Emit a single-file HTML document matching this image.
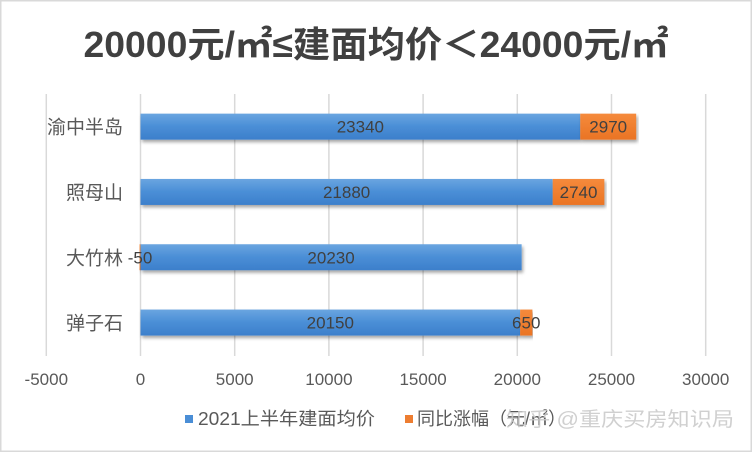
<!DOCTYPE html>
<html><head><meta charset="utf-8"><style>
html,body{margin:0;padding:0;background:#fff}
svg{display:block}
text{font-family:"Liberation Sans","Noto Sans CJK SC",sans-serif}
</style></head><body>
<svg id="chart" width="752" height="452" viewBox="0 0 752 452">
<defs>
<linearGradient id="gb" x1="0" y1="0" x2="0" y2="1"><stop offset="0" stop-color="#6aa5e0"/><stop offset="0.5" stop-color="#4a8ed6"/><stop offset="1" stop-color="#3c7fcb"/></linearGradient>
<linearGradient id="go" x1="0" y1="0" x2="0" y2="1"><stop offset="0" stop-color="#f58a3c"/><stop offset="1" stop-color="#ea7424"/></linearGradient>
<filter id="sh" x="-5%" y="-20%" width="110%" height="160%"><feDropShadow dx="1.5" dy="2.5" stdDeviation="1.5" flood-color="#000" flood-opacity="0.35"/></filter>
</defs>
<rect x="0.5" y="0.5" width="751" height="451" fill="#fff" stroke="#d9d9d9" stroke-width="2"/>
<text x="376" y="57" text-anchor="middle" font-size="36" font-weight="bold" fill="#404040" textLength="585" lengthAdjust="spacingAndGlyphs">20000元/㎡≤建面均价＜24000元/㎡</text>
<g id="grid"></g>
<g id="bars"></g>
<g id="labels"></g>
<g>
<rect x="185" y="415" width="8" height="8" fill="#4a8ed6"/>
<text x="198" y="425" font-size="18" fill="#595959" textLength="177" lengthAdjust="spacingAndGlyphs">2021上半年建面均价</text>
<rect x="405" y="415" width="8" height="8" fill="#ed7d31"/>
<text x="417" y="425" font-size="18" fill="#595959">同比涨幅（元/㎡）</text>
<text x="506" y="426" font-size="20" fill="#c8c8c8" fill-opacity="0.85" textLength="228" lengthAdjust="spacingAndGlyphs">知乎 @重庆买房知识局</text>
</g>
</svg>
<script>
const categories = ["渝中半岛","照母山","大竹林","弹子石"];
const prices = [23340, 21880, 20230, 20150];
const changes = [2970, 2740, -50, 650];
const ticks = [-5000,0,5000,10000,15000,20000,25000,30000];

const NS="http://www.w3.org/2000/svg";
const x0=140.5, k=94.2/5000;
const X=v=>x0+v*k;
const rowTop=94, rowH=65.3;
const Yc=i=>rowTop+rowH*(i+0.5);
const barH=26;
function mk(tag,attrs,parent){const e=document.createElementNS(NS,tag);for(const a in attrs)e.setAttribute(a,attrs[a]);parent.appendChild(e);return e;}
const grid=document.getElementById('grid'),bars=document.getElementById('bars'),labels=document.getElementById('labels');
ticks.forEach(t=>{
  const l=mk('line',{x1:X(t),x2:X(t),y1:94,y2:356,stroke:'#d9d9d9','stroke-width':1.5},grid);
  
  
  const tx=mk('text',{x:X(t),y:385,'text-anchor':'middle','font-size':17,fill:'#595959'},grid);
  tx.textContent=t;
  
  
});
categories.forEach((c,i)=>{
  const yc=Yc(i);
  const cl=mk('text',{x:123,y:yc+7,'text-anchor':'end','font-size':19,fill:'#595959'},labels);
  cl.textContent=c;
  
  
  const b=mk('rect',{x:X(0),y:yc-barH/2,width:X(prices[i])-X(0),height:barH,fill:'url(#gb)',filter:'url(#sh)'},bars);
  
  
  let s,e;
  if(changes[i]>=0){s=X(prices[i]);e=X(prices[i]+changes[i]);}else{s=X(changes[i]);e=X(0);}
  const o=mk('rect',{x:s,y:yc-barH/2,width:e-s,height:barH,fill:'url(#go)',filter:'url(#sh)'},bars);
  
  
  const pl=mk('text',{x:X(prices[i]/2),y:yc+6,'text-anchor':'middle','font-size':17,fill:'#404040'},labels);
  pl.textContent=prices[i];
  
  
  const cx=changes[i]>=0?X(prices[i]+changes[i]/2):X(changes[i]/2);
  const chl=mk('text',{x:cx,y:yc+6,'text-anchor':'middle','font-size':17,fill:'#404040'},labels);
  chl.textContent=changes[i];
  
  
});
</script>
</body></html>
